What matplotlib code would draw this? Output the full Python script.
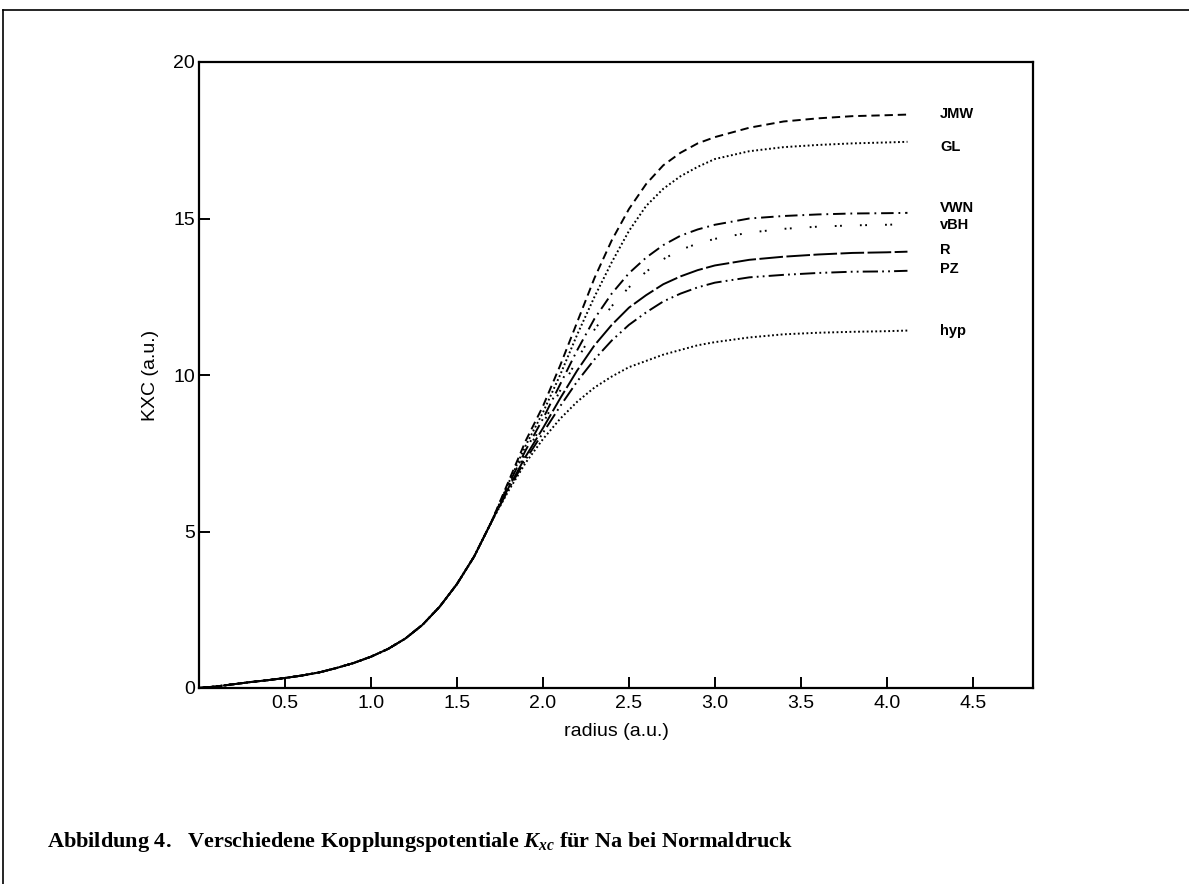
import matplotlib
matplotlib.use("Agg")
import matplotlib.pyplot as plt
from matplotlib.lines import Line2D

plt.rcParams['font.family'] = ['Liberation Sans', 'DejaVu Sans']
plt.rcParams['lines.scale_dashes'] = False
plt.rcParams['mathtext.fontset'] = 'custom'
plt.rcParams['mathtext.it'] = 'Liberation Serif:italic:bold'
plt.rcParams['mathtext.rm'] = 'Liberation Serif:bold'

# ---- data ----
# shared rising part (all curves coincide)
x_common = [0.0, 0.1, 0.2, 0.3, 0.4, 0.5, 0.6, 0.7, 0.8, 0.9, 1.0, 1.1, 1.2,
            1.3, 1.4, 1.5, 1.6, 1.7]
y_common = [0.0, 0.05, 0.12, 0.19, 0.25, 0.32, 0.4, 0.5, 0.64, 0.8, 1.0, 1.25,
            1.58, 2.02, 2.6, 3.32, 4.2, 5.3]

# individual parts
x_tail = [1.8, 1.9, 2.0, 2.1, 2.2, 2.3, 2.4, 2.5, 2.6, 2.7, 2.8, 2.9, 3.0,
          3.2, 3.4, 3.6, 3.8, 4.0, 4.12]
jmw = [6.6, 7.9, 9.0, 10.3, 11.7, 13.1, 14.3, 15.3, 16.1, 16.7, 17.1, 17.4, 17.6,
       17.9, 18.1, 18.2, 18.27, 18.3, 18.32]
gl  = [6.55, 7.75, 8.8, 10.0, 11.3, 12.5, 13.6, 14.6, 15.4, 15.95, 16.35, 16.65, 16.9,
       17.15, 17.28, 17.35, 17.4, 17.43, 17.45]
vwn = [6.5, 7.6, 8.6, 9.7, 10.8, 11.8, 12.6, 13.25, 13.75, 14.15, 14.45, 14.65, 14.8,
       15.0, 15.08, 15.13, 15.16, 15.17, 15.18]
vbh = [6.45, 7.5, 8.45, 9.5, 10.5, 11.45, 12.2, 12.8, 13.3, 13.7, 14.0, 14.2, 14.35,
       14.55, 14.67, 14.74, 14.78, 14.8, 14.82]
rr  = [6.4, 7.4, 8.3, 9.25, 10.15, 10.95, 11.6, 12.15, 12.55, 12.9, 13.15, 13.35, 13.5,
       13.68, 13.78, 13.85, 13.9, 13.92, 13.94]
pz  = [6.35, 7.3, 8.15, 9.0, 9.8, 10.5, 11.1, 11.6, 12.0, 12.35, 12.6, 12.8, 12.95,
       13.12, 13.2, 13.26, 13.3, 13.31, 13.33]
hyp = [6.3, 7.2, 7.95, 8.6, 9.15, 9.6, 9.95, 10.25, 10.45, 10.65, 10.8, 10.95, 11.05,
       11.2, 11.3, 11.35, 11.38, 11.4, 11.42]

names = ['JMW', 'GL', 'VWN', 'vBH', 'R', 'PZ', 'hyp']
series = [jmw, gl, vwn, vbh, rr, pz, hyp]
label_y = [18.35, 17.3, 15.35, 14.8, 14.0, 13.4, 11.4]

xticks = [0.5, 1.0, 1.5, 2.0, 2.5, 3.0, 3.5, 4.0, 4.5]
yticks = [0, 5, 10, 15, 20]

styles = [
    (0, (6, 3.5)),
    (0, (1.3, 1.8)),
    (0, (9, 3.5, 1.3, 3.5)),
    (0, (1.3, 2.5, 1.3, 13)),
    (0, (17, 2.5)),
    (0, (11, 3, 1.3, 3, 1.3, 3)),
    (0, (1.3, 1.8)),
]

fig = plt.figure(figsize=(11.89, 8.84), dpi=100)
ax = fig.add_axes([199/1189, 1 - 688/884, (1033-199)/1189, (688-62)/884])

for s, ls in zip(series, styles):
    xs = x_common + x_tail
    ys = y_common + s
    ax.plot(xs, ys, color='black', lw=1.4, linestyle=ls,
            dash_capstyle='butt', solid_capstyle='butt', solid_joinstyle='round')

for n, ly in zip(names, label_y):
    ax.text(4.31, ly, n, fontsize=10.5, fontweight='bold', va='center', ha='left',
            color='black')

ax.set_xlim(0, 4.85)
ax.set_ylim(0, 20)
ax.set_xticks(xticks)
ax.set_xticklabels([f"{v:.1f}" for v in xticks])
ax.set_yticks(yticks)
ax.set_yticklabels([str(v) for v in yticks])
ax.tick_params(direction='in', length=8, width=1.4, labelsize=14, colors='black')
ax.tick_params(axis='x', pad=5)
ax.tick_params(axis='y', pad=3)
for sp in ax.spines.values():
    sp.set_linewidth(1.6)

ax.set_xlabel('radius (a.u.)', fontsize=14, labelpad=8)
ax.set_ylabel('KXC (a.u.)', fontsize=14, labelpad=10)

# outer page frame
fig.add_artist(Line2D([3/1189, 1.0], [1 - 10/884, 1 - 10/884], color='black', lw=1.2,
                      transform=fig.transFigure))
fig.add_artist(Line2D([3/1189, 3/1189], [0.0, 1 - 10/884], color='black', lw=1.2,
                      transform=fig.transFigure))

fig.text(47/1189, 1 - 842/884,
         "Abbildung 4.   Verschiedene Kopplungspotentiale $K_{xc}$ für Na bei Normaldruck",
         family='Liberation Serif', fontweight='bold', fontsize=16, va='center', ha='left')

fig.savefig('out.png', dpi=100)
